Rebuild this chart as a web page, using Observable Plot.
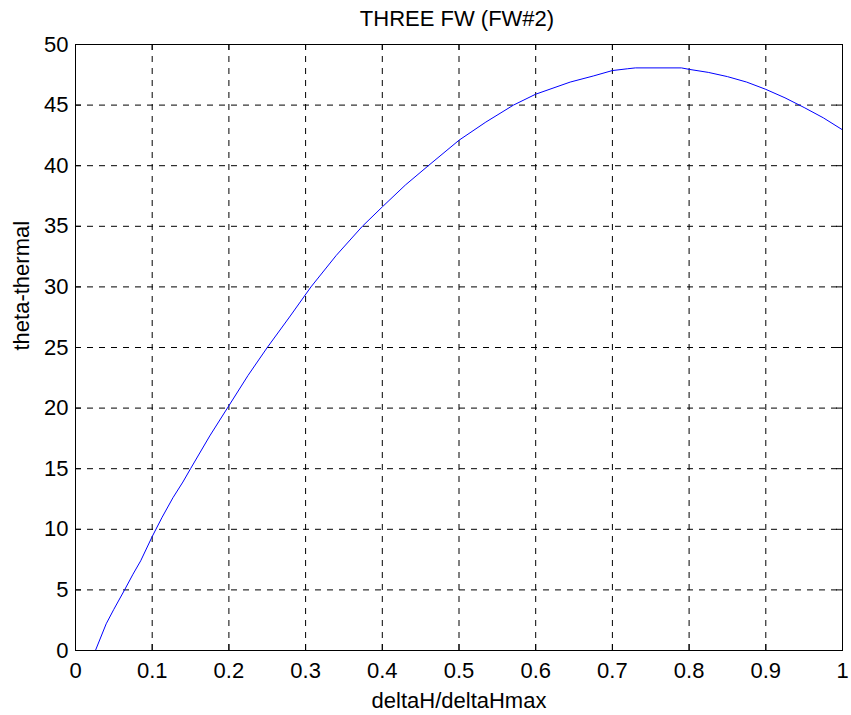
<!DOCTYPE html>
<html><head><meta charset="utf-8">
<script src="https://cdn.jsdelivr.net/npm/d3@7"></script>
<script src="https://cdn.jsdelivr.net/npm/@observablehq/plot@0.6"></script>
<style>body{margin:0;background:#fff}</style>
</head><body><div id="chart"></div>
<script>
const xValues = [0.026,0.04,0.05,0.064,0.075,0.085,0.1,0.113,0.127,0.14,0.15,0.175,0.2,0.225,0.25,0.28,0.307,0.34,0.374,0.4,0.43,0.46,0.5,0.535,0.571,0.6,0.645,0.675,0.7,0.72,0.73,0.79,0.8,0.825,0.85,0.875,0.9,0.925,0.95,0.975,1.0];
const yValues = [0,2.2,3.4,5,6.3,7.4,9.4,11,12.6,13.9,15,17.7,20.2,22.7,25,27.6,30,32.6,35,36.6,38.4,40,42.1,43.6,45,45.9,46.9,47.4,47.85,48.0,48.07,48.07,47.95,47.7,47.35,46.9,46.3,45.6,44.8,43.95,42.96];
const xTicks = [0,0.1,0.2,0.3,0.4,0.5,0.6,0.7,0.8,0.9,1];
const yTicks = [0,5,10,15,20,25,30,35,40,45,50];
const title = "THREE FW (FW#2)";
const xLabel = "deltaH/deltaHmax";
const yLabel = "theta-thermal";

const data = xValues.map((x, i) => ({x, y: yValues[i]}));
const W = 851, H = 715, mL = 75, mR = 9, mT = 44, mB = 65;
const plotH = H - mT - mB;
const tickLen = 6;
const fs = 22;
const font = "'Liberation Sans', Arial, Helvetica, sans-serif";

const chart = Plot.plot({
  width: W, height: H,
  marginLeft: mL, marginRight: mR, marginTop: mT, marginBottom: mB,
  style: {fontFamily: font, fontSize: fs + "px", background: "white", color: "black", overflow: "visible"},
  x: {domain: [0, 1], ticks: xTicks, label: null},
  y: {domain: [0, 50], ticks: yTicks, label: null},
  marks: [
    Plot.ruleX(xTicks.slice(1, -1), {stroke: "black", strokeWidth: 1, strokeDasharray: "6,6"}),
    Plot.ruleY(yTicks.slice(1, -1), {stroke: "black", strokeWidth: 1, strokeDasharray: "6,6"}),
    Plot.tickX(xTicks, {stroke: "black", insetTop: plotH - tickLen}),
    Plot.tickX(xTicks, {stroke: "black", insetBottom: plotH - tickLen}),
    Plot.tickY(yTicks, {stroke: "black", insetLeft: 0, insetRight: (W - mL - mR) - tickLen}),
    Plot.tickY(yTicks, {stroke: "black", insetLeft: (W - mL - mR) - tickLen}),
    Plot.line(data, {x: "x", y: "y", stroke: "#0000ff", strokeWidth: 1}),
    Plot.frame({stroke: "black", strokeWidth: 1}),
    Plot.axisX({ticks: xTicks, tickSize: 0, tickPadding: 12, fontSize: fs, label: null, tickFormat: d => String(d)}),
    Plot.axisY({ticks: yTicks, tickSize: 0, tickPadding: 7, fontSize: fs, label: null, tickFormat: d => String(d)}),
    Plot.text([title], {frameAnchor: "top", dx: -2, dy: -26, lineAnchor: "middle", fontSize: fs, fill: "black"}),
    Plot.text([xLabel], {frameAnchor: "bottom", dy: 50, lineAnchor: "middle", fontSize: fs, fill: "black"}),
    Plot.text([yLabel], {frameAnchor: "left", dx: -54, dy: 3, rotate: -90, lineAnchor: "middle", fontSize: fs, fill: "black"})
  ]
});
document.getElementById("chart").appendChild(chart);
</script>
</body></html>
